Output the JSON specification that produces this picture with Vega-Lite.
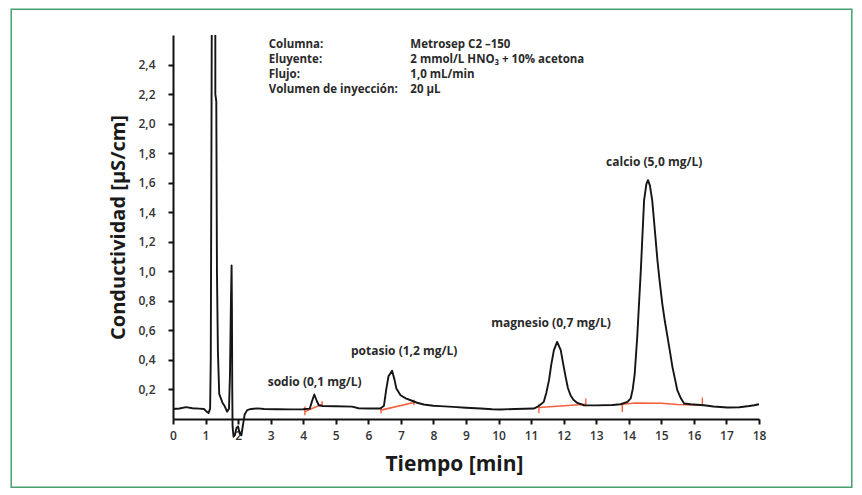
{
  "$schema": "https://vega.github.io/schema/vega-lite/v6.json",
  "autosize": {"type": "none"},
  "padding": {"left": 173, "top": 35, "right": 103, "bottom": 76},
  "width": 586,
  "height": 384,
  "background": "white",
  "config": {"view": {"stroke": null}, "font": "Open Sans"},
  "datasets": {
    "frame": [{"t": -4.97, "t2": 20.85, "v": -0.462, "v2": 2.775}],
    "trace": [
      {"t": 0.0, "v": 0.068}, {"t": 0.2, "v": 0.071}, {"t": 0.4, "v": 0.08}, {"t": 0.6, "v": 0.073},
      {"t": 0.8, "v": 0.07}, {"t": 0.95, "v": 0.068}, {"t": 1.03, "v": 0.05}, {"t": 1.09, "v": 0.04},
      {"t": 1.14, "v": 0.07}, {"t": 1.16, "v": 0.4}, {"t": 1.18, "v": 1.8}, {"t": 1.19, "v": 2.6},
      {"t": 1.25, "v": null},
      {"t": 1.3, "v": 2.6}, {"t": 1.3, "v": 2.2}, {"t": 1.33, "v": 2.15}, {"t": 1.35, "v": 1.0},
      {"t": 1.38, "v": 0.45}, {"t": 1.42, "v": 0.17}, {"t": 1.47, "v": 0.14}, {"t": 1.52, "v": 0.11},
      {"t": 1.58, "v": 0.09}, {"t": 1.66, "v": 0.05}, {"t": 1.72, "v": 0.07}, {"t": 1.75, "v": 0.3},
      {"t": 1.78, "v": 0.8}, {"t": 1.8, "v": 1.04}, {"t": 1.81, "v": 0.75}, {"t": 1.82, "v": 0.2},
      {"t": 1.83, "v": -0.05}, {"t": 1.86, "v": -0.12}, {"t": 1.9, "v": -0.11}, {"t": 1.95, "v": -0.06},
      {"t": 2.0, "v": -0.05}, {"t": 2.05, "v": -0.1}, {"t": 2.1, "v": -0.11}, {"t": 2.15, "v": -0.04},
      {"t": 2.2, "v": 0.03}, {"t": 2.28, "v": 0.06}, {"t": 2.4, "v": 0.068}, {"t": 2.6, "v": 0.072},
      {"t": 2.8, "v": 0.068}, {"t": 3.2, "v": 0.066}, {"t": 3.6, "v": 0.065}, {"t": 4.0, "v": 0.066},
      {"t": 4.2, "v": 0.07}, {"t": 4.27, "v": 0.12}, {"t": 4.34, "v": 0.166}, {"t": 4.42, "v": 0.12},
      {"t": 4.48, "v": 0.093}, {"t": 4.6, "v": 0.087}, {"t": 5.0, "v": 0.086}, {"t": 5.5, "v": 0.084},
      {"t": 5.7, "v": 0.073}, {"t": 6.0, "v": 0.071}, {"t": 6.37, "v": 0.071}, {"t": 6.48, "v": 0.09},
      {"t": 6.55, "v": 0.2}, {"t": 6.62, "v": 0.29}, {"t": 6.73, "v": 0.326}, {"t": 6.8, "v": 0.27},
      {"t": 6.86, "v": 0.207}, {"t": 6.99, "v": 0.161}, {"t": 7.15, "v": 0.14}, {"t": 7.3, "v": 0.127},
      {"t": 7.5, "v": 0.11}, {"t": 7.7, "v": 0.098}, {"t": 8.0, "v": 0.09}, {"t": 8.2, "v": 0.087},
      {"t": 8.6, "v": 0.082}, {"t": 9.0, "v": 0.076}, {"t": 9.45, "v": 0.071}, {"t": 9.8, "v": 0.066},
      {"t": 10.06, "v": 0.064}, {"t": 10.5, "v": 0.068}, {"t": 11.08, "v": 0.071}, {"t": 11.19, "v": 0.082},
      {"t": 11.3, "v": 0.1}, {"t": 11.39, "v": 0.116}, {"t": 11.47, "v": 0.18}, {"t": 11.55, "v": 0.263},
      {"t": 11.62, "v": 0.37}, {"t": 11.7, "v": 0.466}, {"t": 11.8, "v": 0.522}, {"t": 11.91, "v": 0.466},
      {"t": 11.98, "v": 0.38}, {"t": 12.06, "v": 0.285}, {"t": 12.13, "v": 0.21}, {"t": 12.21, "v": 0.161},
      {"t": 12.3, "v": 0.13}, {"t": 12.42, "v": 0.109}, {"t": 12.62, "v": 0.093}, {"t": 13.0, "v": 0.092},
      {"t": 13.5, "v": 0.095}, {"t": 13.75, "v": 0.1}, {"t": 13.96, "v": 0.116}, {"t": 14.06, "v": 0.14},
      {"t": 14.12, "v": 0.2}, {"t": 14.18, "v": 0.3}, {"t": 14.26, "v": 0.556}, {"t": 14.37, "v": 1.007},
      {"t": 14.47, "v": 1.48}, {"t": 14.54, "v": 1.59}, {"t": 14.59, "v": 1.617}, {"t": 14.65, "v": 1.58},
      {"t": 14.72, "v": 1.48}, {"t": 14.8, "v": 1.28}, {"t": 14.88, "v": 1.075}, {"t": 14.95, "v": 0.93},
      {"t": 15.03, "v": 0.78}, {"t": 15.11, "v": 0.66}, {"t": 15.19, "v": 0.556}, {"t": 15.27, "v": 0.45},
      {"t": 15.34, "v": 0.353}, {"t": 15.42, "v": 0.27}, {"t": 15.49, "v": 0.195}, {"t": 15.6, "v": 0.14},
      {"t": 15.7, "v": 0.105}, {"t": 15.9, "v": 0.1}, {"t": 16.31, "v": 0.093}, {"t": 16.6, "v": 0.085},
      {"t": 17.03, "v": 0.078}, {"t": 17.4, "v": 0.08}, {"t": 17.7, "v": 0.088}, {"t": 17.85, "v": 0.093},
      {"t": 18.0, "v": 0.1}
    ],
    "integ": [
      {"seg": "Na", "t": 4.05, "v": 0.05}, {"seg": "Na", "t": 4.58, "v": 0.1},
      {"seg": "K", "t": 6.39, "v": 0.06}, {"seg": "K", "t": 7.4, "v": 0.112},
      {"seg": "Mg", "t": 11.24, "v": 0.078}, {"seg": "Mg", "t": 12.68, "v": 0.1},
      {"seg": "Ca", "t": 13.8, "v": 0.1}, {"seg": "Ca", "t": 14.2, "v": 0.108}, {"seg": "Ca", "t": 15.0, "v": 0.107},
      {"seg": "Ca", "t": 15.5, "v": 0.098}, {"seg": "Ca", "t": 16.26, "v": 0.093}
    ],
    "ticks": [
      {"t": 4.05, "v": 0.026, "v2": 0.085}, {"t": 4.58, "v": 0.087, "v2": 0.12},
      {"t": 6.39, "v": 0.037, "v2": 0.082}, {"t": 7.4, "v": 0.093, "v2": 0.13},
      {"t": 11.24, "v": 0.041, "v2": 0.1}, {"t": 12.68, "v": 0.087, "v2": 0.139},
      {"t": 13.8, "v": 0.048, "v2": 0.1}, {"t": 16.26, "v": 0.087, "v2": 0.146}
    ],
    "peaks": [
      {"t": 4.35, "v": 0.251, "label": "sodio (0,1 mg/L)"},
      {"t": 7.1, "v": 0.459, "label": "potasio (1,2 mg/L)"},
      {"t": 11.61, "v": 0.647, "label": "magnesio (0,7 mg/L)"},
      {"t": 14.78, "v": 1.741, "label": "calcio (5,0 mg/L)"}
    ],
    "info": [
      {"t": 2.94, "v": 2.531, "label": "Columna:"},
      {"t": 2.94, "v": 2.429, "label": "Eluyente:"},
      {"t": 2.94, "v": 2.328, "label": "Flujo:"},
      {"t": 2.94, "v": 2.226, "label": "Volumen de inyección:"},
      {"t": 7.29, "v": 2.531, "label": "Metrosep C2 –150"},
      {"t": 7.29, "v": 2.429, "label": "2 mmol/L HNO₃ + 10% acetona"},
      {"t": 7.29, "v": 2.328, "label": "1,0 mL/min"},
      {"t": 7.29, "v": 2.226, "label": "20 μL"}
    ]
  },
  "encoding": {
    "x": {
      "field": "t", "type": "quantitative",
      "scale": {"domain": [0, 18], "nice": false, "zero": false},
      "axis": {
        "values": [0,1,2,3,4,5,6,7,8,9,10,11,12,13,14,15,16,17,18],
        "format": "d", "grid": false,
        "domainColor": "#111", "domainWidth": 2, "tickColor": "#111", "tickWidth": 2, "tickSize": 5,
        "labelFont": "Open Sans", "labelFontSize": 12, "labelFontWeight": 600, "labelColor": "#333",
        "labelPadding": 6, "labelFlush": false,
        "title": "Tiempo [min]", "titleFont": "Open Sans", "titleFontSize": 21, "titleFontWeight": "bold",
        "titleColor": "#1a1a1a", "titlePadding": 12, "titleX": 281
      }
    },
    "y": {
      "field": "v", "type": "quantitative",
      "scale": {"domain": [0, 2.6], "nice": false, "zero": false},
      "axis": {
        "values": [0.2,0.4,0.6,0.8,1.0,1.2,1.4,1.6,1.8,2.0,2.2,2.4],
        "labelExpr": "replace(format(datum.value, '.1f'), '.', ',')",
        "grid": false,
        "domainColor": "#111", "domainWidth": 2, "tickColor": "#111", "tickWidth": 2, "tickSize": 5,
        "labelFont": "Open Sans", "labelFontSize": 12, "labelFontWeight": 600, "labelColor": "#333",
        "labelPadding": 13,
        "title": "Conductividad [μS/cm]", "titleFont": "Open Sans", "titleFontSize": 20, "titleFontWeight": "bold",
        "titleColor": "#1a1a1a", "titlePadding": 10
      }
    }
  },
  "layer": [
    {
      "data": {"name": "frame"},
      "mark": {"type": "rect", "fill": null, "fillOpacity": 0, "stroke": "#45a06e", "strokeWidth": 1.5},
      "encoding": {"x2": {"field": "t2"}, "y2": {"field": "v2"}}
    },
    {
      "data": {"name": "integ"},
      "mark": {"type": "line", "color": "#f2603c", "strokeWidth": 1.6},
      "encoding": {"detail": {"field": "seg"}}
    },
    {
      "data": {"name": "ticks"},
      "mark": {"type": "rule", "color": "#f2603c", "strokeWidth": 1.4},
      "encoding": {"y2": {"field": "v2"}}
    },
    {
      "data": {"name": "trace"},
      "mark": {"type": "line", "color": "#151515", "strokeWidth": 1.9, "strokeJoin": "round"},
      "encoding": {}
    },
    {
      "data": {"name": "peaks"},
      "mark": {"type": "text", "font": "Open Sans", "fontSize": 12, "fontWeight": "bold", "color": "#2a2a2a", "align": "center", "baseline": "middle"},
      "encoding": {"text": {"field": "label"}}
    },
    {
      "data": {"name": "info"},
      "mark": {"type": "text", "font": "Open Sans", "fontSize": 11.5, "fontWeight": "bold", "color": "#2a2a2a", "align": "left", "baseline": "middle"},
      "encoding": {"text": {"field": "label"}}
    }
  ]
}
